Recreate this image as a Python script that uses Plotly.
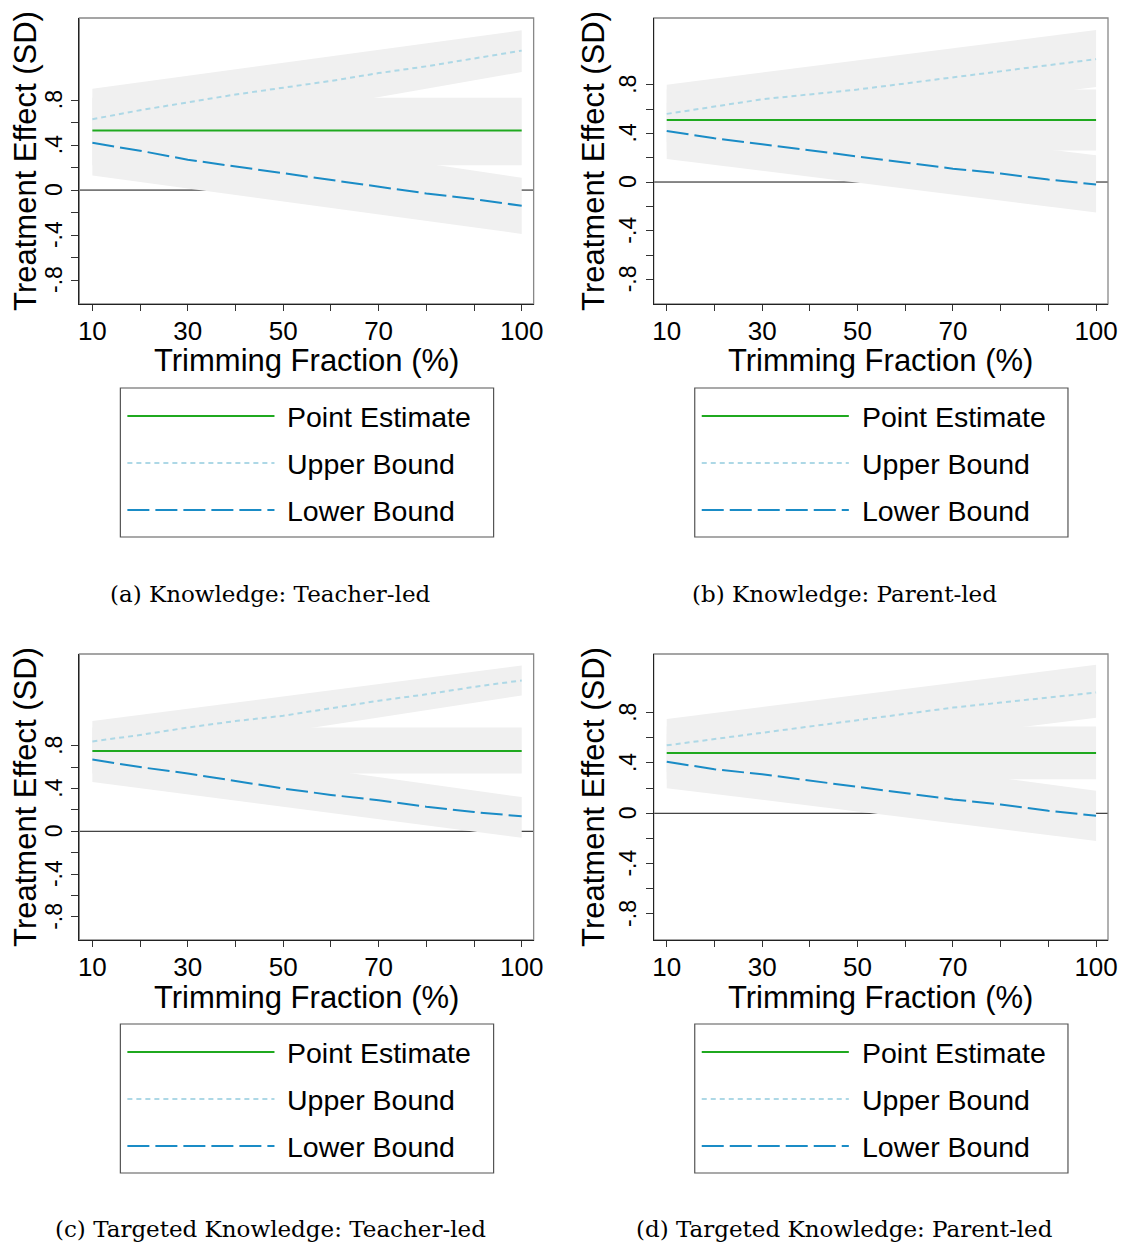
import plotly.graph_objects as go

PAGE_OFFSET_X = 8.7    # measured page position of paper x=0
PAGE_SCALE_X = 0.9896  # measured ratio of rendered to requested width
PAGE_OFFSET_Y = 8      # default body margin of the html page
W, H = 1126, 1238

# ---------------- data ----------------
x_trim = [10, 20, 30, 40, 50, 60, 70, 80, 90, 100]
x_band = [10, 100]

x_tickvals = [10, 20, 30, 40, 50, 60, 70, 80, 90, 100]
x_ticktext = ["10", "", "30", "", "50", "", "70", "", "", "100"]
y_tickvals = [-0.8, -0.6, -0.4, -0.2, 0, 0.2, 0.4, 0.6, 0.8]
y_ticktext = ["-.8", "", "-.4", "", "0", "", ".4", "", ".8"]

legend_labels = ["Point Estimate", "Upper Bound", "Lower Bound"]
panel_captions = ["(a) Knowledge: Teacher-led", "(b) Knowledge: Parent-led",
                  "(c) Targeted Knowledge: Teacher-led", "(d) Targeted Knowledge: Parent-led"]
x_title = "Trimming Fraction (%)"
y_title = "Treatment Effect (SD)"

# (a) Knowledge: Teacher-led
a_point = 0.53
a_point_ci_lo = [0.22, 0.22]
a_point_ci_hi = [0.82, 0.82]
a_upper = [0.63, 0.71, 0.78, 0.85, 0.91, 0.97, 1.04, 1.10, 1.17, 1.24]
a_upper_ci_hi = [0.90, 1.42]
a_upper_ci_lo = [0.38, 1.05]
a_lower = [0.42, 0.35, 0.27, 0.21, 0.15, 0.09, 0.03, -0.03, -0.08, -0.14]
a_lower_ci_hi = [0.68, 0.11]
a_lower_ci_lo = [0.13, -0.39]

# (b) Knowledge: Parent-led
b_point = 0.51
b_point_ci_lo = [0.26, 0.26]
b_point_ci_hi = [0.76, 0.76]
b_upper = [0.56, 0.62, 0.68, 0.72, 0.76, 0.81, 0.86, 0.91, 0.96, 1.01]
b_upper_ci_hi = [0.80, 1.25]
b_upper_ci_lo = [0.33, 0.78]
b_lower = [0.42, 0.36, 0.31, 0.26, 0.21, 0.16, 0.11, 0.07, 0.02, -0.02]
b_lower_ci_hi = [0.65, 0.22]
b_lower_ci_lo = [0.19, -0.25]

# (c) Targeted Knowledge: Teacher-led
c_point = 0.75
c_point_ci_lo = [0.54, 0.54]
c_point_ci_hi = [0.97, 0.97]
c_upper = [0.84, 0.90, 0.97, 1.03, 1.08, 1.15, 1.22, 1.28, 1.35, 1.41]
c_upper_ci_hi = [1.03, 1.55]
c_upper_ci_lo = [0.65, 1.27]
c_lower = [0.67, 0.60, 0.54, 0.47, 0.40, 0.34, 0.29, 0.23, 0.18, 0.14]
c_lower_ci_hi = [0.88, 0.32]
c_lower_ci_lo = [0.46, -0.06]

# (d) Targeted Knowledge: Parent-led
d_point = 0.48
d_point_ci_lo = [0.27, 0.27]
d_point_ci_hi = [0.69, 0.69]
d_upper = [0.54, 0.59, 0.64, 0.69, 0.74, 0.79, 0.84, 0.88, 0.92, 0.96]
d_upper_ci_hi = [0.75, 1.18]
d_upper_ci_lo = [0.33, 0.76]
d_lower = [0.41, 0.35, 0.31, 0.26, 0.21, 0.16, 0.11, 0.07, 0.02, -0.02]
d_lower_ci_hi = [0.63, 0.18]
d_lower_ci_lo = [0.20, -0.22]

panels = [
    dict(point=a_point, pci=(a_point_ci_lo, a_point_ci_hi), upper=a_upper,
         uci=(a_upper_ci_lo, a_upper_ci_hi), lower=a_lower, lci=(a_lower_ci_lo, a_lower_ci_hi),
         yrange=[-1.013, 1.53]),
    dict(point=b_point, pci=(b_point_ci_lo, b_point_ci_hi), upper=b_upper,
         uci=(b_upper_ci_lo, b_upper_ci_hi), lower=b_lower, lci=(b_lower_ci_lo, b_lower_ci_hi),
         yrange=[-1.0025, 1.348]),
    dict(point=c_point, pci=(c_point_ci_lo, c_point_ci_hi), upper=c_upper,
         uci=(c_upper_ci_lo, c_upper_ci_hi), lower=c_lower, lci=(c_lower_ci_lo, c_lower_ci_hi),
         yrange=[-1.016, 1.657]),
    dict(point=d_point, pci=(d_point_ci_lo, d_point_ci_hi), upper=d_upper,
         uci=(d_upper_ci_lo, d_upper_ci_hi), lower=d_lower, lci=(d_lower_ci_lo, d_lower_ci_hi),
         yrange=[-1.007, 1.266]),
]

# ---------------- styles ----------------
GREEN = "#1fa91f"
LIGHTBLUE = "#add8e6"
BLUE = "#1a8cc6"
BAND = "#f0f0f0"
SANS = "Arial, Liberation Sans, sans-serif"
SERIF = "DejaVu Serif, serif"
UP_DASH = "5px,4px"
LO_DASH = "22px,6px"

# panel frames in page pixels: (left, right, top, bottom)
frames = [(79, 533, 18, 304), (653, 1107, 18, 304),
          (79, 533, 654, 940), (653, 1107, 654, 940)]
legend_boxes = [(120, 493, 388, 537), (694, 1067, 388, 537),
                (120, 493, 1024, 1173), (694, 1067, 1024, 1173)]
caption_pos = [(270, 594), (844, 594), (270, 1229), (844, 1229)]


def pxx(v):
    return (v - PAGE_OFFSET_X) / (PAGE_SCALE_X * W)


def pxy(v):
    return 1 - (v - PAGE_OFFSET_Y) / H


fig = go.Figure()
layout = dict(width=W, height=H, margin=dict(l=0, r=0, t=0, b=0),
              paper_bgcolor="white", plot_bgcolor="white", showlegend=False,
              shapes=[], annotations=[])

for i, p in enumerate(panels):
    n = "" if i == 0 else str(i + 1)
    xa, ya = "x" + n, "y" + n
    # confidence bands
    for lo, hi in (p["pci"], p["uci"], p["lci"]):
        fig.add_trace(go.Scatter(x=x_band + x_band[::-1], y=hi + lo[::-1], xaxis=xa, yaxis=ya,
                                 mode="lines", fill="toself", fillcolor=BAND,
                                 line=dict(width=0, color=BAND), hoverinfo="skip"))
    fig.add_trace(go.Scatter(x=x_band, y=[p["point"], p["point"]], xaxis=xa, yaxis=ya,
                             mode="lines", line=dict(color=GREEN, width=2), name=legend_labels[0]))
    fig.add_trace(go.Scatter(x=x_trim, y=p["upper"], xaxis=xa, yaxis=ya, mode="lines",
                             line=dict(color=LIGHTBLUE, width=2, dash=UP_DASH), name=legend_labels[1]))
    fig.add_trace(go.Scatter(x=x_trim, y=p["lower"], xaxis=xa, yaxis=ya, mode="lines",
                             line=dict(color=BLUE, width=2, dash=LO_DASH), name=legend_labels[2]))

    l, r, t, b = frames[i]
    layout["xaxis" + n] = dict(
        domain=[pxx(l), pxx(r)], anchor=ya, range=[7.27, 102.5],
        tickvals=x_tickvals, ticktext=x_ticktext, ticks="outside", ticklen=6,
        tickwidth=1.2, tickcolor="#333", showline=True, linecolor="#222", linewidth=1.3,
        showgrid=False, zeroline=False, tickfont=dict(family=SANS, size=26, color="black"),
        ticklabelstandoff=-2, fixedrange=True)
    layout["yaxis" + n] = dict(
        domain=[pxy(b), pxy(t)], anchor=xa, range=p["yrange"],
        tickvals=y_tickvals, ticktext=y_ticktext, ticks="outside", ticklen=7,
        tickwidth=1.2, tickcolor="#333", showline=True, linecolor="#222", linewidth=1.3,
        showgrid=False, zeroline=False, tickangle=-90, ticklabelshift=3,
        tickfont=dict(family=SANS, size=23, color="black"),
        title=dict(text=y_title, font=dict(family=SANS, size=31, color="black"), standoff=1),
        fixedrange=True)

    # x axis title
    layout["annotations"].append(dict(text=x_title, xref="paper", yref="paper",
                                      x=pxx((l + r) / 2), y=pxy(b + 57), xanchor="center",
                                      yanchor="middle", showarrow=False,
                                      font=dict(family=SANS, size=31, color="black")))

    # zero reference line (below bands)
    layout["shapes"].append(dict(type="line", xref=xa + " domain", yref=ya, x0=0, x1=1, y0=0, y1=0,
                                 line=dict(color="#111", width=1), layer="below"))
    # gray outer frame
    layout["shapes"].append(dict(type="rect", xref="paper", yref="paper",
                                 x0=pxx(l), x1=pxx(r), y0=pxy(b), y1=pxy(t),
                                 line=dict(color="#888", width=1.3), layer="below"))

    # legend box
    lx0, lx1, ly0, ly1 = legend_boxes[i]
    layout["shapes"].append(dict(type="rect", xref="paper", yref="paper",
                                 x0=pxx(lx0), x1=pxx(lx1), y0=pxy(ly1), y1=pxy(ly0),
                                 line=dict(color="#555", width=1.2), fillcolor="white"))
    rows = [ly0 + 28, ly0 + 75, ly0 + 122]
    styles = [(GREEN, "solid"), (LIGHTBLUE, UP_DASH), (BLUE, LO_DASH)]
    for k in range(3):
        col, dsh = styles[k]
        layout["shapes"].append(dict(type="line", xref="paper", yref="paper",
                                     x0=pxx(lx0 + 7), x1=pxx(lx0 + 154),
                                     y0=pxy(rows[k]), y1=pxy(rows[k]),
                                     line=dict(color=col, width=2, dash=dsh)))
        layout["annotations"].append(dict(text=legend_labels[k], xref="paper", yref="paper",
                                          x=pxx(lx0 + 165), y=pxy(rows[k] + 1),
                                          xanchor="left", yanchor="middle", showarrow=False,
                                          font=dict(family=SANS, size=28.5, color="black")))
    cx, cy = caption_pos[i]
    layout["annotations"].append(dict(text=panel_captions[i], xref="paper", yref="paper",
                                      x=pxx(cx), y=pxy(cy), xanchor="center", yanchor="middle",
                                      showarrow=False,
                                      font=dict(family=SERIF, size=23, color="black")))

fig.update_layout(**layout)
fig.write_html("out.html")
